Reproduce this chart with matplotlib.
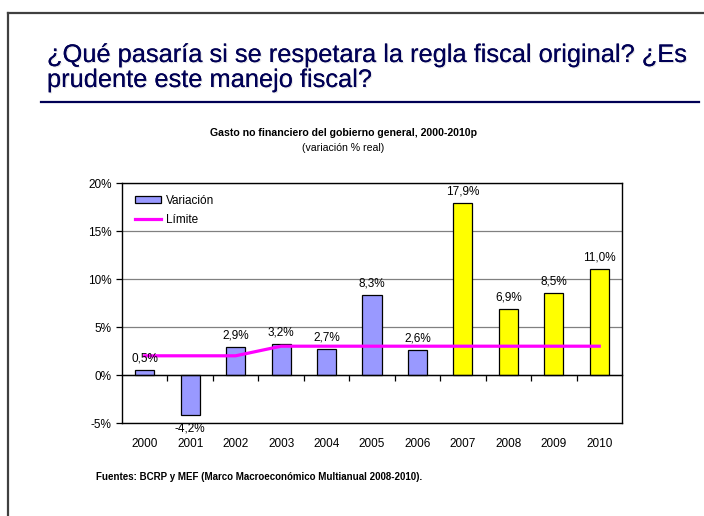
import matplotlib.pyplot as plt
import matplotlib.patheffects as pe
from matplotlib.patches import Patch
from matplotlib.lines import Line2D
from matplotlib.ticker import FuncFormatter

plt.rcParams['font.family'] = ['Liberation Sans', 'DejaVu Sans']

years = ['2000', '2001', '2002', '2003', '2004', '2005',
         '2006', '2007', '2008', '2009', '2010']
variacion = [0.5, -4.2, 2.9, 3.2, 2.7, 8.3, 2.6, 17.9, 6.9, 8.5, 11.0]
limite = [2.0, 2.0, 2.0, 3.0, 3.0, 3.0, 3.0, 3.0, 3.0, 3.0, 3.0]
n_observados = 7  # 2000-2006 observed, rest projected

W, H = 704, 516
fig = plt.figure(figsize=(W / 100, H / 100), dpi=100)
fig.patch.set_facecolor('white')


def fx(px):
    return px / W


def fy(px):
    return 1 - px / H


# slide frame (top and left edges)
fig.add_artist(Line2D([fx(8), fx(8)], [0, fy(13)],
                      color='#404040', lw=1.6, transform=fig.transFigure))
fig.add_artist(Line2D([fx(8), 1], [fy(13), fy(13)],
                      color='#404040', lw=1.6, transform=fig.transFigure))

# slide heading with underline
shadow = [pe.withSimplePatchShadow(offset=(0.8, -0.8), shadow_rgbFace='#b8b8b8', alpha=0.35),
          pe.Normal()]
heading_lines = ['¿Qué pasaría si se respetara la regla fiscal original? ¿Es',
                 'prudente este manejo fiscal?']
for line, base in zip(heading_lines, [62, 87]):
    t = fig.text(fx(47), fy(base), line, ha='left', va='baseline',
                 fontsize=18.3, color='#000055')
    t.set_path_effects(shadow)
fig.add_artist(Line2D([fx(41), fx(699)], [fy(102), fy(102)],
                      color='#000055', lw=1.6, transform=fig.transFigure))

# chart titles
fig.text(fx(343), fy(133),
         'Gasto no financiero del gobierno general, 2000-2010p',
         ha='center', va='center', fontsize=7.6, fontweight='bold')
fig.text(fx(343), fy(148), '(variación % real)',
         ha='center', va='center', fontsize=7.6)

ax = fig.add_axes([fx(122), fy(423), 500 / W, 240 / H])

x = list(range(len(years)))
colors = ['#9999ff' if i < n_observados else '#ffff00' for i in x]
ax.bar(x, variacion, width=0.42, color=colors, edgecolor='black',
       linewidth=0.9, zorder=3)
ax.plot(x, limite, color='#ff00ff', lw=2.3, zorder=4)

for xi, v in zip(x, variacion):
    txt = f'{v:.1f}%'.replace('.', ',')
    if v >= 0:
        ax.annotate(txt, (xi, v), xytext=(0, 4), textcoords='offset points',
                    ha='center', va='bottom', fontsize=8.5, zorder=5)
    else:
        ax.annotate(txt, (xi, v), xytext=(0, -5), textcoords='offset points',
                    ha='center', va='top', fontsize=8.5, zorder=5)

ax.set_xlim(-0.5, 10.5)
ax.set_ylim(-5, 20)
ax.set_yticks([-5, 0, 5, 10, 15, 20])
ax.yaxis.set_major_formatter(FuncFormatter(lambda v, p: f'{v:.0f}%'))
ax.tick_params(axis='y', labelsize=8.5, length=4, width=0.9, direction='out')
ax.yaxis.grid(True, color='#808080', lw=0.9, zorder=0)

# category axis sits on the zero line
ax.spines['bottom'].set_position(('data', 0))
ax.spines['bottom'].set_zorder(4)
ax.set_xticks(x)
ax.set_xticklabels([])
ax.set_xticks([i + 0.5 for i in x[:-1]], minor=True)
ax.tick_params(axis='x', which='major', length=0)
ax.tick_params(axis='x', which='minor', length=4, width=0.9, direction='out')

for side in ['left', 'top', 'right', 'bottom']:
    ax.spines[side].set_color('black')
    ax.spines[side].set_linewidth(1.0)

# year labels along the lower border
sec = ax.secondary_xaxis(0.0)
sec.set_xticks(x)
sec.set_xticklabels(years)
sec.tick_params(length=0, labelsize=8.5, pad=11)
sec.spines['bottom'].set_linewidth(1.0)

handles = [Patch(facecolor='#9999ff', edgecolor='black', lw=0.9),
           Line2D([], [], color='#ff00ff', lw=2.3)]
ax.legend(handles, ['Variación', 'Límite'], loc='upper left',
          bbox_to_anchor=(0.005, 0.995), frameon=False, fontsize=8.5,
          handlelength=2.2, handleheight=0.6, labelspacing=0.6,
          handletextpad=0.4)

fig.text(fx(96), fy(477),
         'Fuentes: BCRP y MEF (Marco Macroeconómico Multianual 2008-2010).',
         ha='left', va='center', fontsize=7, fontweight='bold')

fig.savefig('out.png', dpi=100)
